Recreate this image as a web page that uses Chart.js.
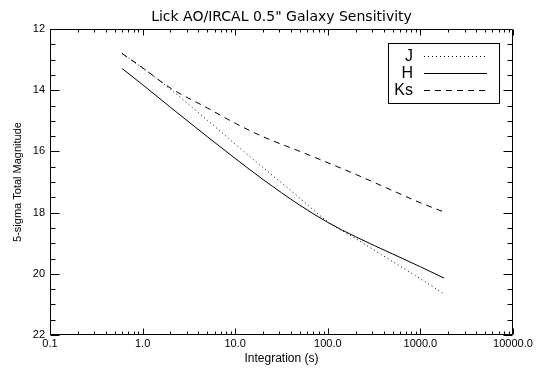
<!DOCTYPE html>
<html>
<head>
<meta charset="utf-8">
<script src="https://cdn.jsdelivr.net/npm/chart.js@4/dist/chart.umd.min.js"></script>
<style>
  html, body { margin: 0; padding: 0; background: #fff; }
  #chart { display: block; }
</style>
</head>
<body>
<canvas id="chart" width="544" height="377"></canvas>
<script>
// Integration times (s) the curves were sampled at
const integrationTimes = [0.6, 1, 2, 5, 10, 20, 50, 100, 200, 500, 1000, 1800];

// 5-sigma total magnitude per band
const magJ  = [12.80, 13.27, 13.97, 14.98, 15.76, 16.53, 17.53, 18.30, 18.85, 19.60, 20.16, 20.66];
const magH  = [13.29, 13.82, 14.56, 15.52, 16.23, 16.92, 17.76, 18.32, 18.79, 19.35, 19.77, 20.14];
const magKs = [12.80, 13.27, 13.93, 14.58, 15.08, 15.52, 16.00, 16.37, 16.75, 17.28, 17.68, 17.98];

const bandNames = ['J', 'H', 'Ks'];

// axis ticks
const xTickValues = [0.1, 1, 10, 100, 1000, 10000];
const xTickLabels = ['0.1', '1.0', '10.0', '100.0', '1000.0', '10000.0'];

const SANS = "'Liberation Sans', Arial, sans-serif";

function toPoints(mags) {
  return integrationTimes.map((t, i) => ({ x: t, y: mags[i] }));
}

// IDL style frame: box round the plot with ticks pointing inward on all sides
const frameTicks = {
  id: 'frameTicks',
  afterDatasetsDraw(chart) {
    const { ctx, chartArea: a, scales: { x, y } } = chart;
    const xMajor = 6, xMinor = 3, yMajor = 9, yMinor = 5;
    ctx.save();
    ctx.strokeStyle = '#000';
    ctx.lineWidth = 1;
    ctx.beginPath();
    const L = a.left + 0.5, R = a.right - 0.5, T = a.top + 0.5, B = a.bottom - 0.5;
    ctx.rect(L, T, R - L, B - T);

    const xTick = (v, len) => {
      const px = Math.round(x.getPixelForValue(v)) + 0.5;
      ctx.moveTo(px, B); ctx.lineTo(px, B - len);
      ctx.moveTo(px, T); ctx.lineTo(px, T + len);
    };
    xTickValues.forEach(v => xTick(v, xMajor));
    for (let d = 0.1; d < 10000; d *= 10) {
      for (let k = 2; k <= 9; k++) xTick(k * d, xMinor);
    }

    const yTick = (v, len) => {
      const py = Math.round(y.getPixelForValue(v)) + 0.5;
      ctx.moveTo(L, py); ctx.lineTo(L + len, py);
      ctx.moveTo(R, py); ctx.lineTo(R - len, py);
    };
    for (let m = 12; m <= 22; m += 0.5) {
      yTick(m, m % 2 === 0 ? yMajor : yMinor);
    }
    ctx.stroke();
    ctx.restore();
  }
};

// legend box in the upper right corner: label first, then a sample of the line
const boxLegend = {
  id: 'boxLegend',
  afterDraw(chart) {
    const { ctx } = chart;
    const box = { left: 388.5, top: 43.5, right: 499.5, bottom: 103.5 };
    ctx.save();
    ctx.strokeStyle = '#000';
    ctx.lineWidth = 1;
    ctx.strokeRect(box.left, box.top, box.right - box.left, box.bottom - box.top);
    ctx.font = '16px ' + SANS;
    ctx.fillStyle = '#000';
    ctx.textAlign = 'right';
    ctx.textBaseline = 'middle';
    chart.data.datasets.forEach((ds, i) => {
      const yy = 56.5 + i * 17;
      ctx.fillText(ds.label, 413, yy);
      ctx.beginPath();
      ctx.setLineDash(ds.borderDash || []);
      ctx.moveTo(424, yy);
      ctx.lineTo(487, yy);
      ctx.stroke();
    });
    ctx.restore();
  }
};

Chart.defaults.color = '#000';
Chart.defaults.font.family = SANS;

new Chart(document.getElementById('chart'), {
  type: 'line',
  data: {
    datasets: [
      { label: bandNames[0], data: toPoints(magJ), borderDash: [1, 3] },
      { label: bandNames[1], data: toPoints(magH), borderDash: [] },
      { label: bandNames[2], data: toPoints(magKs), borderDash: [6, 5] }
    ].map(ds => Object.assign(ds, {
      borderColor: '#000',
      borderWidth: 1,
      pointRadius: 0,
      fill: false,
      cubicInterpolationMode: 'monotone'
    }))
  },
  options: {
    responsive: false,
    animation: false,
    devicePixelRatio: 1,
    layout: { padding: { right: 31 } },
    scales: {
      x: {
        type: 'logarithmic',
        position: 'bottom',
        min: 0.1,
        max: 10000,
        grid: { display: false, drawTicks: false },
        border: { display: false },
        afterBuildTicks: s => { s.ticks = xTickValues.map(v => ({ value: v })); },
        afterFit: s => { s.height = 42; },
        ticks: {
          autoSkip: false,
          maxRotation: 0,
          padding: 2,
          font: { size: 11 },
          callback: (v, i) => xTickLabels[i]
        },
        title: {
          display: true,
          text: 'Integration (s)',
          font: { size: 12 },
          padding: { top: 0, bottom: 11 }
        }
      },
      y: {
        type: 'linear',
        reverse: true,
        min: 12,
        max: 22,
        grid: { display: false, drawTicks: false },
        border: { display: false },
        afterFit: s => { s.width = 50; },
        ticks: { stepSize: 2, padding: 5, font: { size: 11 } },
        title: {
          display: true,
          text: '5-sigma Total Magnitude',
          font: { size: 11 },
          padding: { top: 11, bottom: 0 }
        }
      }
    },
    plugins: {
      legend: { display: false },
      tooltip: { enabled: false },
      title: {
        display: true,
        fullSize: false,
        text: 'Lick AO/IRCAL 0.5" Galaxy Sensitivity',
        font: { family: "'DejaVu Sans', sans-serif", size: 14, weight: 'normal' },
        padding: { top: 8.5, bottom: 3.7 }
      }
    }
  },
  plugins: [frameTicks, boxLegend]
});
</script>
</body>
</html>
